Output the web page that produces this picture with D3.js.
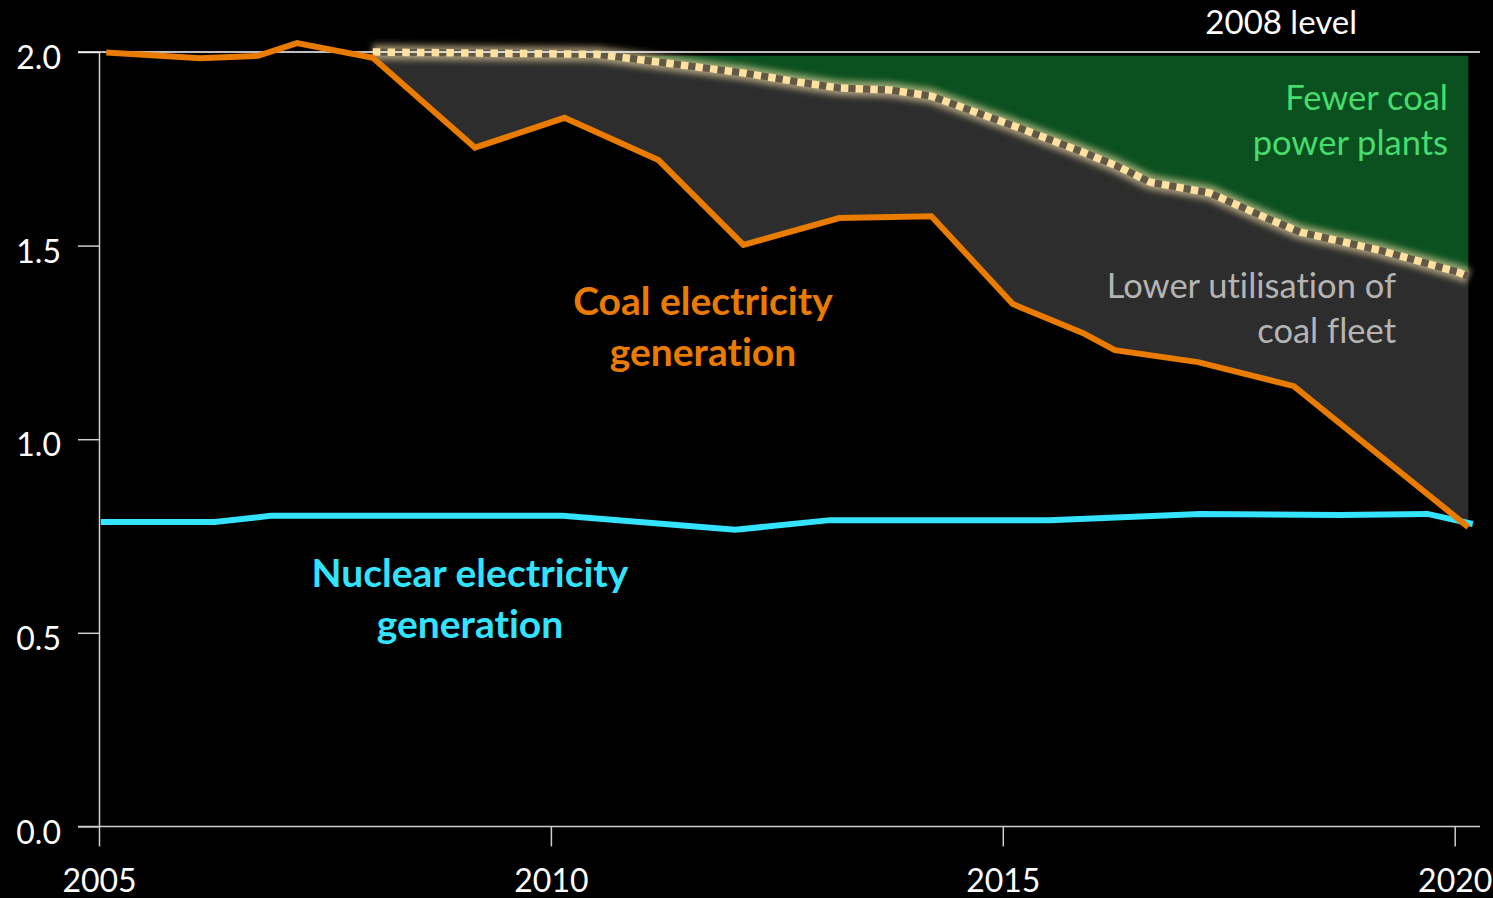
<!DOCTYPE html>
<html>
<head>
<meta charset="utf-8">
<script src="https://cdn.jsdelivr.net/npm/d3@7/dist/d3.min.js"></script>
<style>
  html, body { margin: 0; padding: 0; background: #000; }
  svg { display: block; font-family: Lato, "Open Sans", sans-serif; font-variant-ligatures: none; }
</style>
</head>
<body>
<svg id="chart" width="1493" height="898"></svg>
<script>
// Coal electricity generation
const coalYears  = [2005.08, 2006.12, 2006.76, 2007.19, 2008.03, 2009.16, 2010.15, 2011.19, 2012.13, 2013.19, 2014.21, 2015.11, 2015.89, 2016.24, 2017.16, 2018.22, 2020.15];
const coalValues = [1.999, 1.984, 1.990, 2.023, 1.985, 1.753, 1.830, 1.721, 1.502, 1.571, 1.576, 1.349, 1.274, 1.230, 1.199, 1.137, 0.773];

// Coal generation if the fleet had kept its utilisation (dotted line)
const fleetYears  = [2008.03, 2010.51, 2011.19, 2012.13, 2012.75, 2013.19, 2013.75, 2014.21, 2015.10, 2015.89, 2016.24, 2016.63, 2017.29, 2017.92, 2018.29, 2019.17, 2020.03, 2020.15];
const fleetValues = [2.000, 1.994, 1.974, 1.946, 1.922, 1.907, 1.902, 1.886, 1.811, 1.741, 1.708, 1.664, 1.636, 1.571, 1.535, 1.488, 1.432, 1.421];

// Nuclear electricity generation
const nuclearYears  = [2005.02, 2006.28, 2006.90, 2010.13, 2012.04, 2013.09, 2015.52, 2017.18, 2018.73, 2019.70, 2020.20];
const nuclearValues = [0.786, 0.786, 0.802, 0.802, 0.766, 0.791, 0.791, 0.807, 0.804, 0.807, 0.781];

const level2008 = 2.0;
const greenTop = 1.99;
const yTicks = [0.0, 0.5, 1.0, 1.5, 2.0];
const xTicks = [2005, 2010, 2015, 2020];

const svg = d3.select("#chart");

const x = d3.scaleLinear().domain([2005, 2020.28]).range([99, 1480]);
const y = d3.scaleLinear().domain([0, 2]).range([826.4, 52]);

const coal = coalYears.map((t, i) => ({ t, v: coalValues[i] }));
const fleet = fleetYears.map((t, i) => ({ t, v: fleetValues[i] }));
const nuclear = nuclearYears.map((t, i) => ({ t, v: nuclearValues[i] }));

const defs = svg.append("defs");
defs.append("filter").attr("id", "glow")
  .attr("x", "-5%").attr("y", "-50%").attr("width", "110%").attr("height", "200%")
  .append("feGaussianBlur").attr("stdDeviation", 3.2);

// Green band: between the 2008 level and the fleet line
const greenArea = d3.area()
  .x(d => x(d.t))
  .y0(y(greenTop))
  .y1(d => y(Math.min(d.v, greenTop)));
svg.append("path").datum(fleet)
  .attr("d", greenArea)
  .attr("fill", "#0b501f");

// Grey band: between the fleet line and actual coal generation
const coalAt = d3.scaleLinear().domain(coalYears).range(coalValues);
const fleetAt = d3.scaleLinear().domain(fleetYears).range(fleetValues);
const bandYears = Array.from(new Set(fleetYears.concat(coalYears.filter(t => t >= fleetYears[0])))).sort((a, b) => a - b);
const band = bandYears.map(t => ({ t, hi: fleetAt(t), lo: coalAt(t) }));
svg.append("path").datum(band)
  .attr("d", d3.area().x(d => x(d.t)).y0(d => y(d.lo)).y1(d => y(d.hi)))
  .attr("fill", "#2d2d2d");

// Axes
const axisColor = "#cfcfcf";
const yAxis = svg.append("g")
  .attr("transform", `translate(${x(2005)},0)`)
  .call(d3.axisLeft(y).tickValues(yTicks).tickSize(21).tickSizeOuter(0).tickFormat(d3.format(".1f")));
yAxis.select(".domain").attr("stroke", axisColor).attr("stroke-width", 1.5);
yAxis.selectAll(".tick line").attr("stroke", axisColor).attr("stroke-width", 1.5);
yAxis.selectAll(".tick text")
  .attr("x", -38).attr("dy", "0.52em")
  .attr("fill", "#fff").attr("font-size", 32).attr("font-family", "Lato, sans-serif");

const xAxis = svg.append("g")
  .attr("transform", `translate(0,${y(0)})`)
  .call(d3.axisBottom(x).tickValues(xTicks).tickSize(20).tickSizeOuter(0).tickFormat(d3.format("d")));
xAxis.select(".domain").remove();
xAxis.selectAll(".tick line").attr("stroke", axisColor).attr("stroke-width", 1.5);
xAxis.selectAll(".tick text")
  .attr("y", 43).attr("dy", "0.71em")
  .attr("fill", "#fff").attr("font-size", 32).attr("font-family", "Lato, sans-serif");
svg.append("line")
  .attr("x1", x(2005) - 21).attr("x2", x.range()[1])
  .attr("y1", y(0)).attr("y2", y(0))
  .attr("stroke", axisColor).attr("stroke-width", 1.5);

// Fleet line: glow and dark core
const fleetLine = d3.line().x(d => x(d.t)).y(d => y(d.v));
svg.append("path").datum(fleet)
  .attr("d", fleetLine)
  .attr("fill", "none").attr("stroke", "#f3dfa8").attr("stroke-width", 15)
  .attr("stroke-opacity", 0.62).attr("filter", "url(#glow)");
svg.append("path").datum(fleet)
  .attr("d", fleetLine)
  .attr("fill", "none").attr("stroke", "#625848").attr("stroke-width", 7);

// 2008 level reference line
svg.append("line")
  .attr("x1", x(2005) - 21).attr("x2", x.range()[1])
  .attr("y1", y(level2008)).attr("y2", y(level2008))
  .attr("stroke", "#fff").attr("stroke-width", 1.5);
svg.append("text")
  .attr("x", 1357).attr("y", y(level2008) - 18)
  .attr("text-anchor", "end").attr("fill", "#fff").attr("font-size", 33)
  .text("2008 level");

// Fleet line: square dots
svg.append("path").datum(fleet)
  .attr("d", fleetLine)
  .attr("fill", "none").attr("stroke", "#ffe2a0").attr("stroke-width", 7.5)
  .attr("stroke-dasharray", "7.5 7.2");

// Nuclear and coal lines
svg.append("path").datum(nuclear)
  .attr("d", d3.line().x(d => x(d.t)).y(d => y(d.v)))
  .attr("fill", "none").attr("stroke", "#33e3ff").attr("stroke-width", 6);
svg.append("path").datum(coal)
  .attr("d", d3.line().x(d => x(d.t)).y(d => y(d.v)))
  .attr("fill", "none").attr("stroke", "#e87b00").attr("stroke-width", 6);

// Annotations
function label(lines, px, baselines, opts) {
  const t = svg.append("text")
    .attr("text-anchor", opts.anchor)
    .attr("fill", opts.color)
    .attr("font-size", opts.size)
    .attr("font-weight", opts.weight || "normal");
  lines.forEach((s, i) => t.append("tspan").attr("x", px).attr("y", baselines[i]).text(s));
}
label(["Coal electricity", "generation"], 703, [315, 366], { anchor: "middle", color: "#e87b00", weight: "bold", size: 39 });
label(["Nuclear electricity", "generation"], 470, [587, 638], { anchor: "middle", color: "#33e3ff", weight: "bold", size: 39 });
label(["Fewer coal", "power plants"], 1448, [110, 155], { anchor: "end", color: "#46dc6e", size: 34.5 });
label(["Lower utilisation of", "coal fleet"], 1396, [298, 343], { anchor: "end", color: "#b4b4b4", size: 34.5 });
</script>
</body>
</html>
